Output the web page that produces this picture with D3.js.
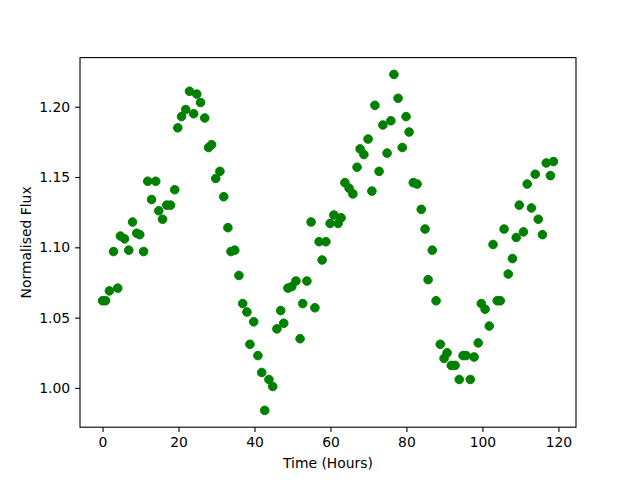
<!DOCTYPE html>
<html><head><meta charset="utf-8">
<script src="https://cdn.jsdelivr.net/npm/d3@7"></script>
<style>body{margin:0;background:#fff}svg{display:block}text{font-family:"DejaVu Sans",sans-serif}</style>
</head><body><svg id="c" width="640" height="480"></svg>
<script>
const timeHours = [0.0,0.8,1.8,2.9,4.0,4.7,5.8,6.9,7.9,9.0,9.8,10.8,11.9,12.9,14.0,14.8,15.8,16.9,17.9,19.0,
19.8,20.8,21.9,22.9,24.0,24.8,25.8,26.9,27.9,28.7,29.8,30.9,31.9,33.0,33.8,34.8,35.9,36.9,38.0,38.8,
39.8,40.9,41.9,42.7,43.8,44.8,45.9,46.9,47.7,48.8,49.8,50.9,52.0,52.7,53.8,54.9,55.9,57.0,57.8,58.8,
59.9,60.9,62.0,62.8,63.8,64.9,65.9,67.0,67.8,68.8,69.9,70.9,71.7,72.8,73.8,74.9,75.9,76.7,77.8,78.9,
79.9,80.7,81.8,82.8,83.9,84.9,85.7,86.8,87.8,88.9,89.9,90.7,91.8,92.8,93.9,94.9,95.7,96.8,97.8,98.9,
99.7,100.7,101.8,102.8,103.9,104.7,105.7,106.8,107.9,108.9,109.7,110.8,111.8,112.9,113.9,114.7,115.8,116.8,117.9,118.7];
const flux = [1.062,1.062,1.069,1.097,1.071,1.108,1.106,1.098,1.118,1.110,1.109,1.097,1.147,1.134,1.147,1.126,1.120,1.130,1.130,1.141,
1.185,1.193,1.198,1.211,1.195,1.209,1.203,1.192,1.171,1.173,1.149,1.154,1.136,1.114,1.097,1.098,1.080,1.060,1.054,1.031,
1.047,1.023,1.011,0.984,1.006,1.001,1.042,1.055,1.046,1.071,1.072,1.076,1.035,1.060,1.076,1.118,1.057,1.104,1.091,1.104,
1.117,1.123,1.117,1.121,1.146,1.142,1.138,1.157,1.170,1.166,1.177,1.140,1.201,1.154,1.187,1.167,1.190,1.223,1.206,1.171,
1.193,1.182,1.146,1.145,1.127,1.113,1.077,1.098,1.062,1.031,1.021,1.025,1.016,1.016,1.006,1.023,1.023,1.006,1.022,1.032,
1.060,1.056,1.044,1.102,1.062,1.062,1.113,1.081,1.092,1.107,1.130,1.111,1.145,1.128,1.152,1.120,1.109,1.160,1.151,1.161];
const xTicks = [0,20,40,60,80,100,120];
const yTicks = [1.00,1.05,1.10,1.15,1.20];
const xLabel = "Time (Hours)";
const yLabel = "Normalised Flux";

const svg = d3.select("#c");
const L=80, R=576, T=57.6, B=427.2;
const xe = d3.extent(timeHours), ye = d3.extent(flux);
const xm = (xe[1]-xe[0])*0.05, ym = (ye[1]-ye[0])*0.05;
const x = d3.scaleLinear().domain([xe[0]-xm, xe[1]+xm]).range([L,R]);
const y = d3.scaleLinear().domain([ye[0]-ym, ye[1]+ym]).range([B,T]);

svg.append("g").selectAll("circle").data(timeHours).join("circle")
  .attr("cx",(d)=>x(d)).attr("cy",(d,i)=>y(flux[i])).attr("r",4.3)
  .attr("fill","#008000").attr("stroke","#008000").attr("stroke-width",1);

const xa = svg.append("g").attr("transform",`translate(0,${B})`)
  .call(d3.axisBottom(x).tickValues(xTicks).tickSize(4.9).tickPadding(4.9).tickFormat(d3.format("d")));
const ya = svg.append("g").attr("transform",`translate(${L},0)`)
  .call(d3.axisLeft(y).tickValues(yTicks).tickSize(4.9).tickPadding(4.9).tickFormat(d3.format(".2f")));
[xa,ya].forEach(a=>{a.select(".domain").remove();
  a.selectAll("text").attr("font-size","13.9px").attr("fill","#000").attr("font-family","DejaVu Sans");
  a.selectAll("line").attr("stroke","#000").attr("stroke-width",1.1);});

svg.append("rect").attr("x",L).attr("y",T).attr("width",R-L).attr("height",B-T)
  .attr("fill","none").attr("stroke","#000").attr("stroke-width",1.1);

svg.append("text").attr("x",(L+R)/2).attr("y",468).attr("text-anchor","middle")
  .attr("font-size","13.9px").text(xLabel);
svg.append("text").attr("transform",`translate(31,${(T+B)/2}) rotate(-90)`).attr("text-anchor","middle")
  .attr("font-size","13.9px").text(yLabel);
</script></body></html>
